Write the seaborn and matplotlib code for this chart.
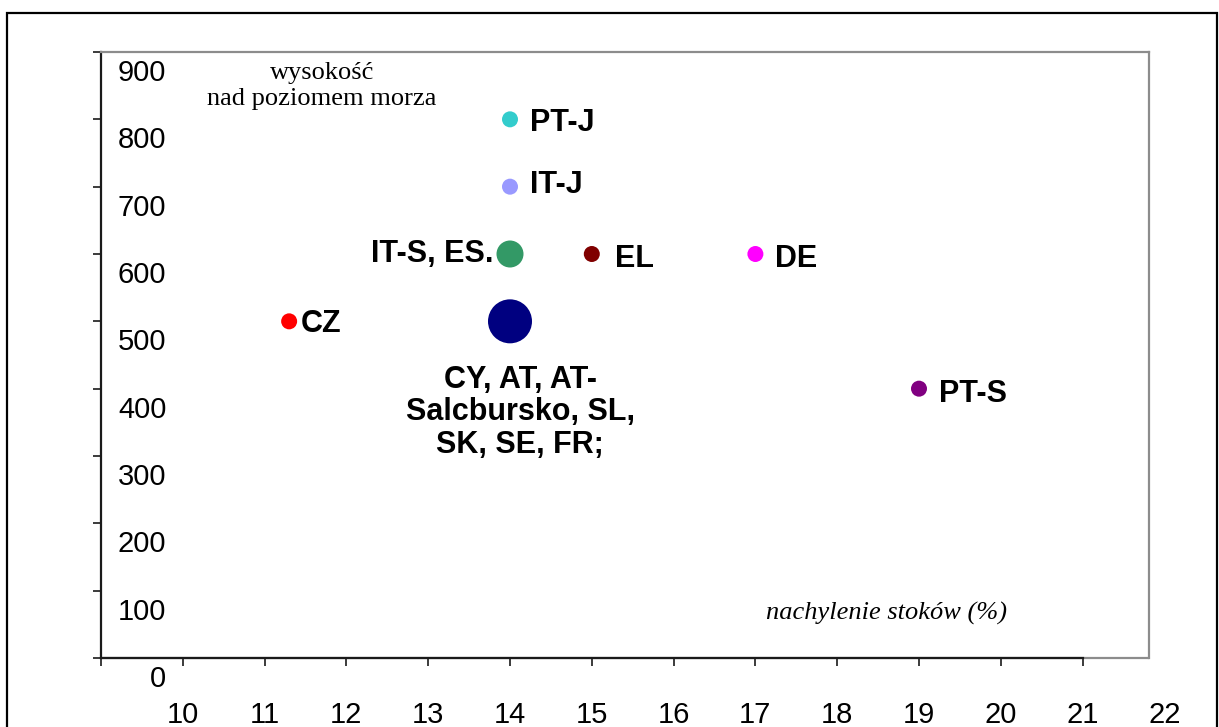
import matplotlib
matplotlib.use("Agg")
import matplotlib.pyplot as plt
import matplotlib.transforms as mtransforms
from matplotlib.patches import Rectangle
import seaborn as sns
import pandas as pd

# ---- data ----
names = ["PT-J", "IT-J", "IT-S, ES.", "EL", "DE",
         "CY, AT, AT-\nSalcbursko, SL,\nSK, SE, FR;", "CZ", "PT-S"]
slope = [14, 14, 14, 15, 17, 14, 11.3, 19]          # nachylenie stoków (%)
altitude = [800, 700, 600, 600, 600, 500, 500, 400]  # wysokość n.p.m.
colors = ["#33CCCC", "#9999FF", "#339966", "#800000", "#FF00FF",
          "#000080", "#FF0000", "#800080"]
x_tick_values = [10, 11, 12, 13, 14, 15, 16, 17, 18, 19, 20, 21, 22]
y_tick_values = [0, 100, 200, 300, 400, 500, 600, 700, 800, 900]

# ---- style ----
sns.set_style("white")
plt.rcParams["font.family"] = ["Liberation Sans", "DejaVu Sans"]
plt.rcParams["text.color"] = "black"
plt.rcParams["xtick.color"] = "black"
plt.rcParams["ytick.color"] = "black"
plt.rcParams["axes.labelcolor"] = "black"

W, H, DPI = 1219, 727, 100
fig = plt.figure(figsize=(W / DPI, H / DPI), dpi=DPI)
ax = fig.add_axes([101 / W, 1 - 658 / H, (1149 - 101) / W, (658 - 52) / H])

df = pd.DataFrame({"name": names, "slope": slope, "altitude": altitude})
palette = dict(zip(names, colors))
size_px = [16, 16, 27, 16, 16, 44, 16, 16]
sizes = {n: (d * 0.72) ** 2 for n, d in zip(names, size_px)}

sns.scatterplot(data=df, x="slope", y="altitude", hue="name", palette=palette,
                size="name", sizes=sizes, legend=False, linewidth=0,
                ax=ax, zorder=3)

ax.set_xlim(9, 9 + 1048 / 81.8)
ax.set_ylim(0, 900)
ax.set_xlabel("")
ax.set_ylabel("")

# spines: gray plot-area border, black axes
for s in ax.spines.values():
    s.set_color("#8c8c8c")
    s.set_linewidth(1.6)
ax.spines["left"].set_color("#1a1a1a")
ax.spines["bottom"].set_color("#1a1a1a")
ax.spines["bottom"].set_bounds(9, 21)
ax.axhline(0, color="#8c8c8c", lw=1.6, zorder=0.5, clip_on=False)

# ticks
ax.set_xticks([9] + x_tick_values[:-1])
ax.set_xticklabels([""] + [str(v) for v in x_tick_values[:-1]])
ax.set_yticks(y_tick_values)
ax.set_yticklabels([str(v) for v in y_tick_values])
ax.tick_params(axis="x", direction="out", length=6, width=1.2, color="#1a1a1a",
               labelsize=21, pad=25, bottom=True, labelcolor="black")
ax.tick_params(axis="y", direction="out", length=6, width=1.2, color="#1a1a1a",
               labelsize=21, pad=-53, left=True, labelcolor="black")
offset = mtransforms.ScaledTranslation(0, -18 / DPI, fig.dpi_scale_trans)
for lab in ax.get_yticklabels():
    lab.set_transform(lab.get_transform() + offset)
# last x label (22) sits just outside the plot area
xlab_trans = mtransforms.blended_transform_factory(ax.transData, ax.transAxes)
ax.text(x_tick_values[-1], 0, str(x_tick_values[-1]), transform=xlab_trans,
        ha="center", va="top", fontsize=21, clip_on=False, color="black")
# align 22 with other labels
fig.canvas.draw()
ref = ax.get_xticklabels()[1].get_window_extent()
ax.texts[-1].set_transform(xlab_trans + mtransforms.ScaledTranslation(
    0, -(ax.get_window_extent().y0 - ref.y1) / DPI, fig.dpi_scale_trans))

# point labels (offsets in pixels)
offsets = [(20, -4, "left"), (20, 2, "left"), (-17, 0, "right"), (23, -5, "left"),
           (20, -5, "left"), (10, -91, "center"), (12, -3, "left"), (20, -5, "left")]
for n, xv, yv, (dx, dy, ha) in zip(names, slope, altitude, offsets):
    ax.annotate(n, (xv, yv), xytext=(dx, dy), textcoords="offset pixels",
                ha=ha, va="center", fontsize=22, fontweight="bold",
                linespacing=1.1, multialignment="center", zorder=4,
                color="black")

# axis titles
ax.text((322 - 101) / 1048, (658 - 86) / 606, "wysokość\nnad poziomem morza",
        transform=ax.transAxes, ha="center", va="center", fontsize=19,
        family=["Liberation Serif", "DejaVu Serif"], linespacing=1.2,
        color="black")
ax.text((887 - 101) / 1048, (658 - 613) / 606, "nachylenie stoków (%)",
        transform=ax.transAxes, ha="center", va="center", fontsize=19,
        style="italic", family=["Liberation Serif", "DejaVu Serif"],
        color="black")

# outer frame
fig.patches.append(Rectangle((7 / W, -0.05), (1217 - 7) / W, 1 - 13 / H + 0.05,
                             transform=fig.transFigure, fill=False,
                             edgecolor="black", linewidth=1.6))

fig.savefig("out.png", dpi=DPI)
